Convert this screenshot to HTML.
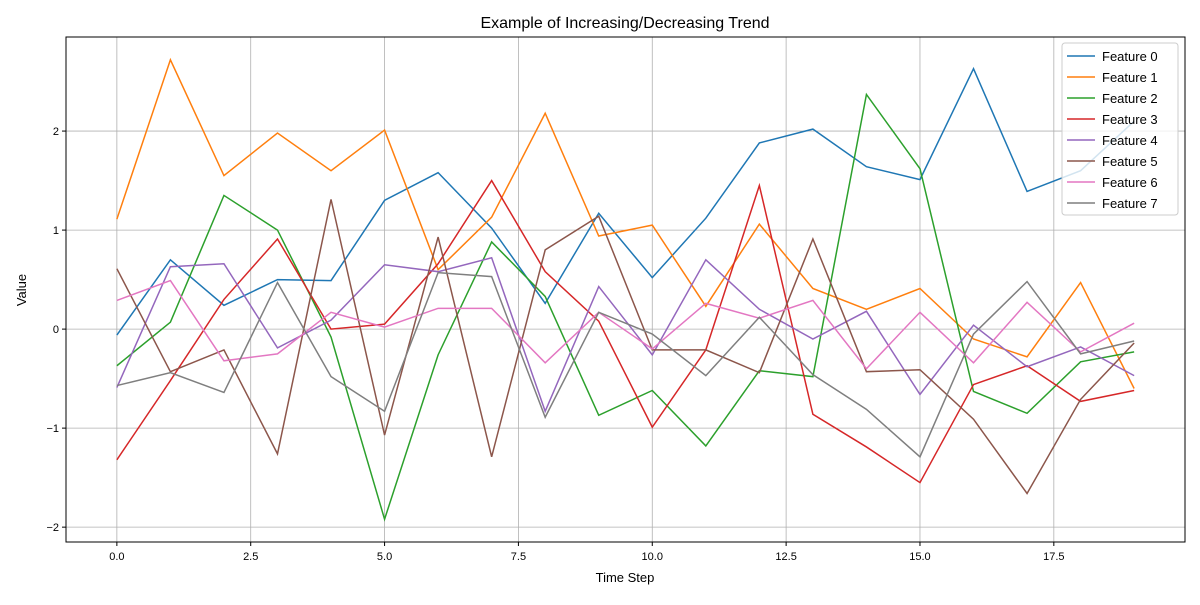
<!DOCTYPE html>
<html><head><meta charset="utf-8"><style>
body{margin:0;background:#fff;}
svg text{font-family:"Liberation Sans","DejaVu Sans",sans-serif;fill:#000;}
</style></head><body>
<svg id="chart" width="1200" height="600" xmlns="http://www.w3.org/2000/svg">
<rect width="1200" height="600" fill="#fff"/>
<g id="grid"></g>
<g id="series"></g>
<rect x="66" y="37" width="1119" height="505" fill="none" stroke="#000" stroke-width="1"/>
<g id="ticks"></g>
<text x="625" y="28" font-size="16" text-anchor="middle">Example of Increasing/Decreasing Trend</text>
<text x="625" y="582" font-size="13" text-anchor="middle">Time Step</text>
<text x="26" y="290" font-size="13" text-anchor="middle" transform="rotate(-90 26 290)">Value</text>
<g id="legend"></g>
</svg>
<script>
const steps=[0,1,2,3,4,5,6,7,8,9,10,11,12,13,14,15,16,17,18,19];
const seriesNames=["Feature 0","Feature 1","Feature 2","Feature 3","Feature 4","Feature 5","Feature 6","Feature 7"];
const f0=[-0.06,0.70,0.24,0.50,0.49,1.30,1.58,1.02,0.26,1.17,0.52,1.12,1.88,2.02,1.64,1.51,2.63,1.39,1.60,2.10];
const f1=[1.11,2.72,1.55,1.98,1.60,2.01,0.60,1.13,2.18,0.94,1.05,0.23,1.06,0.41,0.20,0.41,-0.10,-0.28,0.47,-0.60];
const f2=[-0.37,0.07,1.35,1.00,-0.08,-1.92,-0.26,0.88,0.33,-0.87,-0.62,-1.18,-0.42,-0.48,2.37,1.62,-0.63,-0.85,-0.33,-0.23];
const f3=[-1.32,-0.52,0.30,0.91,0.00,0.05,0.66,1.50,0.58,0.08,-0.99,-0.21,1.45,-0.86,-1.19,-1.55,-0.56,-0.37,-0.73,-0.62];
const f4=[-0.59,0.63,0.66,-0.19,0.09,0.65,0.58,0.72,-0.83,0.43,-0.26,0.70,0.20,-0.10,0.18,-0.66,0.04,-0.38,-0.18,-0.47];
const f5=[0.61,-0.43,-0.21,-1.26,1.31,-1.07,0.93,-1.29,0.80,1.14,-0.21,-0.21,-0.44,0.91,-0.43,-0.41,-0.91,-1.66,-0.71,-0.14];
const f6=[0.29,0.49,-0.32,-0.25,0.17,0.02,0.21,0.21,-0.34,0.17,-0.20,0.26,0.11,0.29,-0.40,0.17,-0.34,0.27,-0.23,0.06];
const f7=[-0.57,-0.44,-0.64,0.47,-0.48,-0.83,0.57,0.53,-0.89,0.17,-0.05,-0.47,0.12,-0.46,-0.81,-1.29,-0.05,0.48,-0.25,-0.12];
const xTicks=[0,2.5,5,7.5,10,12.5,15,17.5];
const xTickLabels=["0.0","2.5","5.0","7.5","10.0","12.5","15.0","17.5"];
const yTicks=[-2,-1,0,1,2];
const yTickLabels=["\u22122","\u22121","0","1","2"];
const colors=["#1f77b4","#ff7f0e","#2ca02c","#d62728","#9467bd","#8c564b","#e377c2","#7f7f7f"];
const allSeries=[f0,f1,f2,f3,f4,f5,f6,f7];
const NS="http://www.w3.org/2000/svg";
const X0=66,X1=1185,Y0=37,Y1=542,xmin=-0.95,xmax=19.95,ymin=-2.15,ymax=2.95;
const sx=v=>X0+(v-xmin)/(xmax-xmin)*(X1-X0);
const sy=v=>Y1-(v-ymin)/(ymax-ymin)*(Y1-Y0);
function mk(tag,attrs,parent){const e=document.createElementNS(NS,tag);for(const k in attrs)e.setAttribute(k,attrs[k]);parent.appendChild(e);return e;}
const grid=document.getElementById('grid'),ticks=document.getElementById('ticks');
xTicks.forEach((t,i)=>{const x=sx(t);
 const g=mk('line',{x1:x,x2:x,y1:Y0,y2:Y1,stroke:'#b0b0b0','stroke-width':0.8},grid);
 
 
 mk('line',{x1:x,x2:x,y1:Y1,y2:Y1+4,stroke:'#000'},ticks);
 const tx=mk('text',{x:x,y:Y1+18,'font-size':11,'text-anchor':'middle'},ticks);tx.textContent=xTickLabels[i];
 
 
});
yTicks.forEach((t,i)=>{const y=sy(t);
 const g=mk('line',{x1:X0,x2:X1,y1:y,y2:y,stroke:'#b0b0b0','stroke-width':0.8},grid);
 
 
 mk('line',{x1:X0-4,x2:X0,y1:y,y2:y,stroke:'#000'},ticks);
 const tx=mk('text',{x:X0-7,y:y+4,'font-size':11,'text-anchor':'end'},ticks);tx.textContent=yTickLabels[i];
 
 
});
const sg=document.getElementById('series');
allSeries.forEach((s,k)=>{
 const p=mk('polyline',{points:s.map((v,i)=>sx(steps[i])+','+sy(v)).join(' '),fill:'none',stroke:colors[k],'stroke-width':1.5},sg);
 
 
});
const lg=document.getElementById('legend');
const box=mk('rect',{x:1062,y:43,width:116,height:172,rx:3,fill:'#fff','fill-opacity':0.8,stroke:'#ccc'},lg);


seriesNames.forEach((n,k)=>{const y=56+k*21;
 const l=mk('line',{x1:1067,x2:1095,y1:y,y2:y,stroke:colors[k],'stroke-width':1.5},lg);
 
 
 const t=mk('text',{x:1102,y:y+5,'font-size':13},lg);t.textContent=n;
 
 
});
</script>
</body></html>
